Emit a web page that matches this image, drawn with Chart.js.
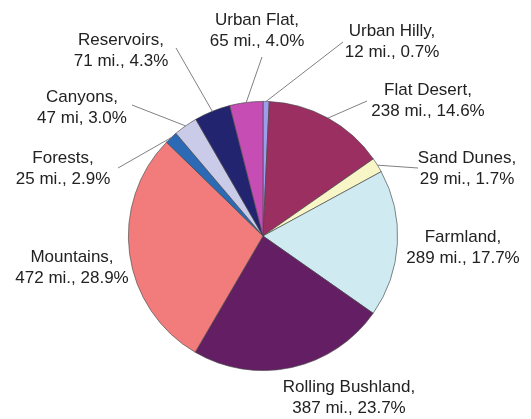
<!DOCTYPE html>
<html>
<head>
<meta charset="utf-8">
<script src="https://cdn.jsdelivr.net/npm/chart.js@4/dist/chart.umd.min.js"></script>
<style>
  html, body { margin: 0; padding: 0; background: #fff; }
  #wrap { width: 531px; height: 419px; position: relative; }
</style>
</head>
<body>
<div id="wrap"><canvas id="pie"></canvas></div>
<script>
// slices, clockwise from 12 o'clock
var categories = ['Urban Hilly', 'Flat Desert', 'Sand Dunes', 'Farmland', 'Rolling Bushland',
                  'Mountains', 'Forests', 'Canyons', 'Reservoirs', 'Urban Flat'];
var miles = [12, 238, 29, 289, 387, 472, 25, 47, 71, 65];
// percentages as printed on the chart
var percents = ['0.7', '14.6', '1.7', '17.7', '23.7', '28.9', '2.9', '3.0', '4.3', '4.0'];
var units = ['mi.', 'mi.', 'mi.', 'mi.', 'mi.', 'mi.', 'mi.', 'mi', 'mi.', 'mi.'];

var colors = ['#9d9ded', '#9c2f62', '#f8f5c6', '#cfeaf1', '#641f64',
              '#f27c7c', '#2c6ab5', '#cacbe8', '#222470', '#c54db3'];

// label block centres and leader end points (layout only)
var labelPos = [
    { x: 392, y: 31, lead: [343, 42] },
    { x: 428, y: 90, lead: [367, 101] },
    { x: 467, y: 158, lead: [418, 168] },
    { x: 463, y: 237, lead: null },
    { x: 349, y: 387, lead: null },
    { x: 72, y: 257, lead: null },
    { x: 63, y: 158, lead: [118, 168] },
    { x: 82, y: 97, lead: [132, 105] },
    { x: 121, y: 40, lead: [176, 48] },
    { x: 257, y: 20, lead: [262, 57] }
];

var outsideLabels = {
    id: 'outsideLabels',
    afterDatasetsDraw: function(chart) {
        var ctx = chart.ctx;
        var meta = chart.getDatasetMeta(0);
        ctx.save();
        meta.data.forEach(function(arc, i) {
            var p = arc.getProps(['x', 'y', 'startAngle', 'endAngle', 'outerRadius'], true);
            var mid = (p.startAngle + p.endAngle) / 2;
            var pos = labelPos[i];
            if (pos.lead) {
                ctx.strokeStyle = '#808080';
                ctx.lineWidth = 1;
                ctx.beginPath();
                ctx.moveTo(p.x + Math.cos(mid) * p.outerRadius, p.y + Math.sin(mid) * p.outerRadius);
                ctx.lineTo(pos.lead[0], pos.lead[1]);
                ctx.stroke();
            }
            ctx.fillStyle = '#222';
            ctx.font = '17px "Liberation Sans", Arial, sans-serif';
            ctx.textAlign = 'center';
            ctx.textBaseline = 'middle';
            ctx.fillText(categories[i] + ',', pos.x, pos.y);
            ctx.fillText(miles[i] + ' ' + units[i] + ', ' + percents[i] + '%', pos.x, pos.y + 21);
        });
        ctx.restore();
    }
};

new Chart(document.getElementById('pie'), {
    type: 'pie',
    data: {
        labels: categories,
        datasets: [{
            data: miles,
            backgroundColor: colors,
            borderColor: 'rgba(70,70,70,0.8)',
            borderWidth: 0.8
        }]
    },
    options: {
        responsive: true,
        maintainAspectRatio: false,
        animation: false,
        layout: { padding: { left: 128, right: 133, top: 101, bottom: 48 } },
        plugins: {
            legend: { display: false },
            tooltip: { enabled: false }
        }
    },
    plugins: [outsideLabels]
});
</script>
</body>
</html>
